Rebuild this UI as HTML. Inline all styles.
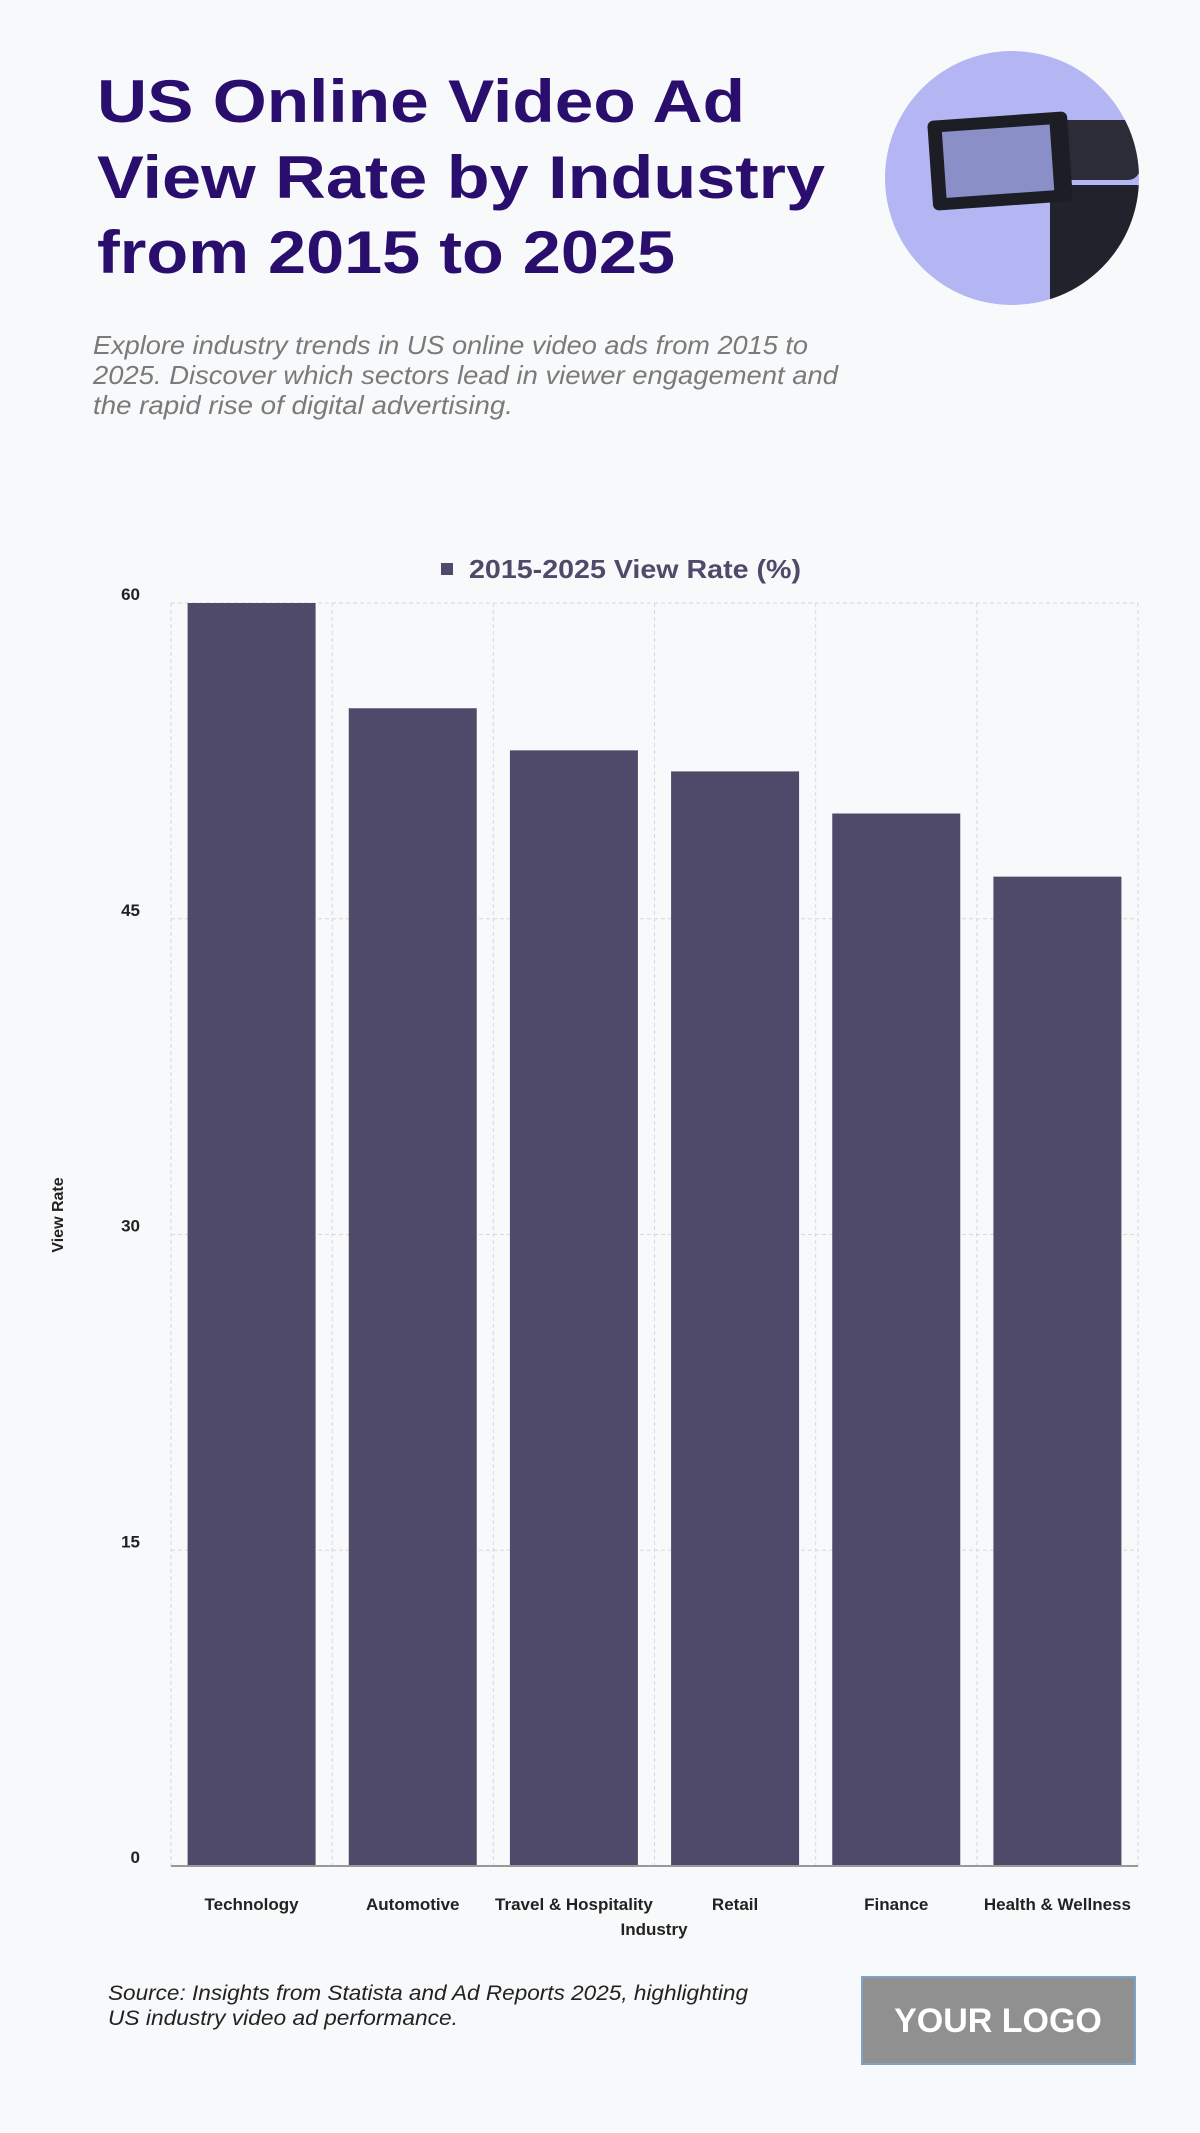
<!DOCTYPE html>
<html><head><meta charset="utf-8"><style>
html,body{margin:0;padding:0;background:#f8f9fa;}
svg{display:block;font-family:"Liberation Sans",sans-serif;}
</style></head><body>
<svg width="1200" height="2133" viewBox="0 0 1200 2133" xmlns="http://www.w3.org/2000/svg">
<rect width="1200" height="2133" fill="#f8f9fa"/>
<g fill="#2a0e6e" font-weight="bold" font-size="60">
<text x="97" y="122" textLength="648" lengthAdjust="spacingAndGlyphs">US Online Video Ad</text>
<text x="97" y="198" textLength="728" lengthAdjust="spacingAndGlyphs">View Rate by Industry</text>
<text x="97" y="273" textLength="578" lengthAdjust="spacingAndGlyphs">from 2015 to 2025</text>
</g>
<g fill="#7a7a7a" font-style="italic" font-size="26">
<text x="93" y="354" textLength="715" lengthAdjust="spacingAndGlyphs">Explore industry trends in US online video ads from 2015 to</text>
<text x="93" y="384" textLength="745" lengthAdjust="spacingAndGlyphs">2025. Discover which sectors lead in viewer engagement and</text>
<text x="93" y="414" textLength="420" lengthAdjust="spacingAndGlyphs">the rapid rise of digital advertising.</text>
</g>
<g>
<defs><clipPath id="cc"><circle cx="1012" cy="178" r="127"/></clipPath></defs>
<circle cx="1012" cy="178" r="127" fill="#b4b6f3"/>
<g clip-path="url(#cc)">
<rect x="1050" y="120" width="90" height="60" rx="12" fill="#2c2c38"/>
<rect x="1050" y="185" width="100" height="130" rx="14" fill="#22222c"/>
<rect x="930" y="116" width="140" height="90" rx="6" fill="#1d1d26" transform="rotate(-4 1000 160)"/>
<rect x="944" y="128" width="108" height="66" fill="#8a8fc8" transform="rotate(-4 1000 160)"/>
</g>
</g>
<g id="chart"></g>
<g font-style="italic" font-size="21" fill="#222">
<text x="108" y="2000" textLength="640" lengthAdjust="spacingAndGlyphs">Source: Insights from Statista and Ad Reports 2025, highlighting</text>
<text x="108" y="2025" textLength="350" lengthAdjust="spacingAndGlyphs">US industry video ad performance.</text>
</g>
<g>
<rect x="862" y="1977" width="273" height="87" fill="#909090" stroke="#7fa3c4" stroke-width="2"/>
<text x="998" y="2032" text-anchor="middle" font-size="34" font-weight="bold" fill="#fff">YOUR LOGO</text>
</g>
</svg>
<script>
const categories = ["Technology","Automotive","Travel & Hospitality","Retail","Finance","Health & Wellness"];
const values = [60, 55, 53, 52, 50, 47];
const yTicks = [0, 15, 30, 45, 60];
const NS = "http://www.w3.org/2000/svg";
const g = document.getElementById("chart");
const L = 171, R = 1138, T = 603, B = 1866, yMax = 60;
const y = v => B - (v / yMax) * (B - T);
const band = (R - L) / categories.length;
const x = i => L + i * band;
function mk(tag, attrs, parent) {
  const e = document.createElementNS(NS, tag);
  for (const k in attrs) e.setAttribute(k, attrs[k]);
  (parent || g).appendChild(e);
  return e;
}
yTicks.forEach(t => {
  const ln = mk("line", {x1: L, x2: R, y1: y(t), y2: y(t), stroke: "#d8d8d8", "stroke-dasharray": "4 3"});
  
  
  const tx = mk("text", {x: 140, y: y(t) - 3, "text-anchor": "end", "font-size": 17, "font-weight": "bold", fill: "#222"});
  tx.textContent = t;
  
  
});
for (let i = 0; i <= categories.length; i++) {
  const ln = mk("line", {x1: x(i), x2: x(i), y1: T, y2: B, stroke: "#d8d8d8", "stroke-dasharray": "4 3"});
  
  
}
categories.forEach((c, i) => {
  const bw = 128;
  const r = mk("rect", {x: x(i) + (band - bw) / 2, y: y(values[i]), width: bw, height: B - y(values[i]), fill: "#4f4a6a"});
  
  
  const tx = mk("text", {x: x(i) + band / 2, y: 1910, "text-anchor": "middle", "font-size": 17, "font-weight": "bold", fill: "#222"});
  tx.textContent = c;
  
  
});
const base = mk("line", {x1: L, x2: R, y1: B, y2: B, stroke: "#999", "stroke-width": 2});


const xt = mk("text", {x: 654, y: 1935, "text-anchor": "middle", "font-size": 17, "font-weight": "bold", fill: "#222"});
xt.textContent = "Industry";


const yt = mk("text", {x: 63, y: 1215, "text-anchor": "middle", "font-size": 16, "font-weight": "bold", fill: "#222", transform: "rotate(-90 63 1215)"});
yt.textContent = "View Rate";


const lg = mk("rect", {x: 441, y: 563, width: 12, height: 12, fill: "#4f4a6a"});


const lt = mk("text", {x: 469, y: 578, "font-size": 26, "font-weight": "bold", fill: "#4f4a6a", textLength: 332, lengthAdjust: "spacingAndGlyphs"});
lt.textContent = "2015-2025 View Rate (%)";


</script>
</body></html>
